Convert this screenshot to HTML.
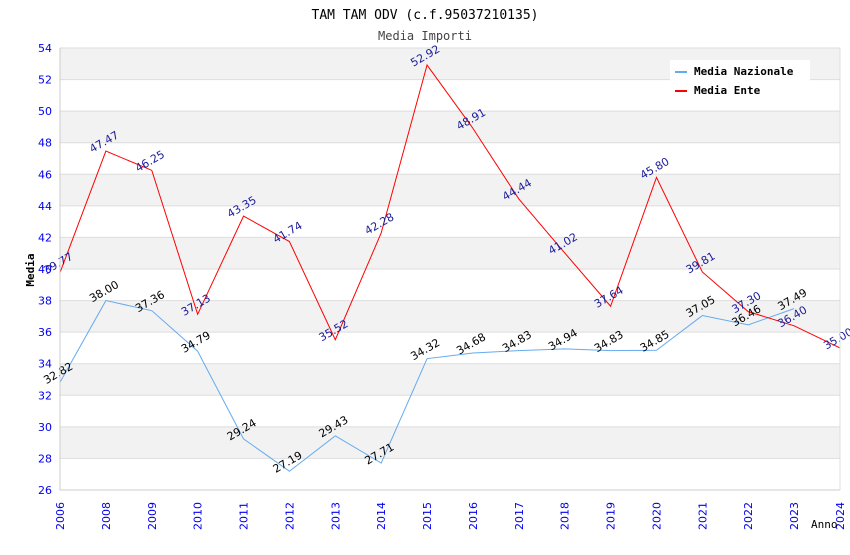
<!DOCTYPE html>
<html><head><meta charset="utf-8"><style>
body{margin:0;background:#fff;}
svg text.mono{font-family:"DejaVu Sans Mono","Liberation Mono",monospace;}
svg text.sans{font-family:"DejaVu Sans","Liberation Sans",sans-serif;}
</style></head><body>
<svg id="chart" width="850" height="550" xmlns="http://www.w3.org/2000/svg">
<text class="mono" x="425" y="19" text-anchor="middle" font-size="13" fill="#000">TAM TAM ODV (c.f.95037210135)</text>
<text class="mono" x="425" y="40" text-anchor="middle" font-size="12" fill="#444">Media Importi</text>
<g id="bands"></g><g id="grid"></g>
<g id="lines"></g><g id="labels"></g><g id="axes"></g>
<text class="mono" transform="translate(34,270) rotate(-90)" text-anchor="middle" font-size="11" font-weight="bold" fill="#000">Media</text>
<text class="mono" x="811" y="528" font-size="11" fill="#000">Anno</text>
<g>
<rect x="670" y="60" width="140" height="40" fill="#fff"/>
<line x1="675" y1="72" x2="687" y2="72" stroke="#66aaee" stroke-width="2"/>
<text class="mono" x="694" y="75" font-size="11" font-weight="bold">Media Nazionale</text>
<line x1="675" y1="91" x2="687" y2="91" stroke="#ff0000" stroke-width="2"/>
<text class="mono" x="694" y="94" font-size="11" font-weight="bold">Media Ente</text>
</g>
</svg>
<script>
const years=["2006","2008","2009","2010","2011","2012","2013","2014","2015","2016","2017","2018","2019","2020","2021","2022","2023","2024"];
const nazionale=[32.82,38.00,37.36,34.79,29.24,27.19,29.43,27.71,34.32,34.68,34.83,34.94,34.83,34.85,37.05,36.46,37.49,null];
const ente=[39.77,47.47,46.25,37.13,43.35,41.74,35.52,42.28,52.92,48.91,44.44,41.02,37.64,45.80,39.81,37.30,36.40,35.00];
const yTicks=[26,28,30,32,34,36,38,40,42,44,46,48,50,52,54];
const NS="http://www.w3.org/2000/svg";
const L=60,R=840,T=48,B=490,yMin=26,yMax=54;
const x=i=>L+i*(R-L)/(years.length-1);
const y=v=>B-(v-yMin)*(B-T)/(yMax-yMin);
function mk(tag,attrs,parent){const e=document.createElementNS(NS,tag);for(const k in attrs)e.setAttribute(k,attrs[k]);document.getElementById(parent).appendChild(e);return e;}
for(let i=0;i<yTicks.length-1;i++){
  const top=yTicks[yTicks.length-1-i],bot=top-2;
  if(i%2===0){const r=mk('rect',{x:L,y:y(top),width:R-L,height:y(bot)-y(top),fill:'#f2f2f2'},'bands');
  
  }
}
yTicks.forEach(t=>{
  const g=mk('line',{x1:L,x2:R,y1:y(t),y2:y(t),stroke:'#dddddd'},'grid');
  
  
  const tx=mk('text',{class:'sans',x:L-8,y:y(t)+4,'text-anchor':'end','font-size':'11',fill:'#0000ee'},'axes');
  tx.textContent=t;
  
  
});
mk('line',{x1:L,x2:L,y1:T,y2:B,stroke:'#cccccc'},'axes');
mk('line',{x1:L,x2:R,y1:B,y2:B,stroke:'#cccccc'},'axes');
mk('line',{x1:R,x2:R,y1:T,y2:B,stroke:'#dddddd'},'axes');
years.forEach((yr,i)=>{
  const tx=mk('text',{class:'sans',transform:`translate(${x(i)+4},${B+12}) rotate(-90)`,'text-anchor':'end','font-size':'11',fill:'#0000ee'},'axes');
  tx.textContent=yr;
  
  
});
function series(vals,color,labelColor,name){
  const pts=[];vals.forEach((v,i)=>{if(v!==null)pts.push(x(i)+','+y(v));});
  const p=mk('polyline',{points:pts.join(' '),fill:'none',stroke:color,'stroke-width':'1'},'lines');
  
  
  vals.forEach((v,i)=>{if(v===null)return;
    const tx=mk('text',{class:'sans',transform:`translate(${x(i)},${y(v)-6}) rotate(-30)`,'text-anchor':'middle','font-size':'11',fill:labelColor},'labels');
    tx.textContent=v.toFixed(2);
    
    
  });
}
series(nazionale,'#66aaee','#000000','media-nazionale');
series(ente,'#ff0000','#1a1a99','media-ente');
</script>
</body></html>
